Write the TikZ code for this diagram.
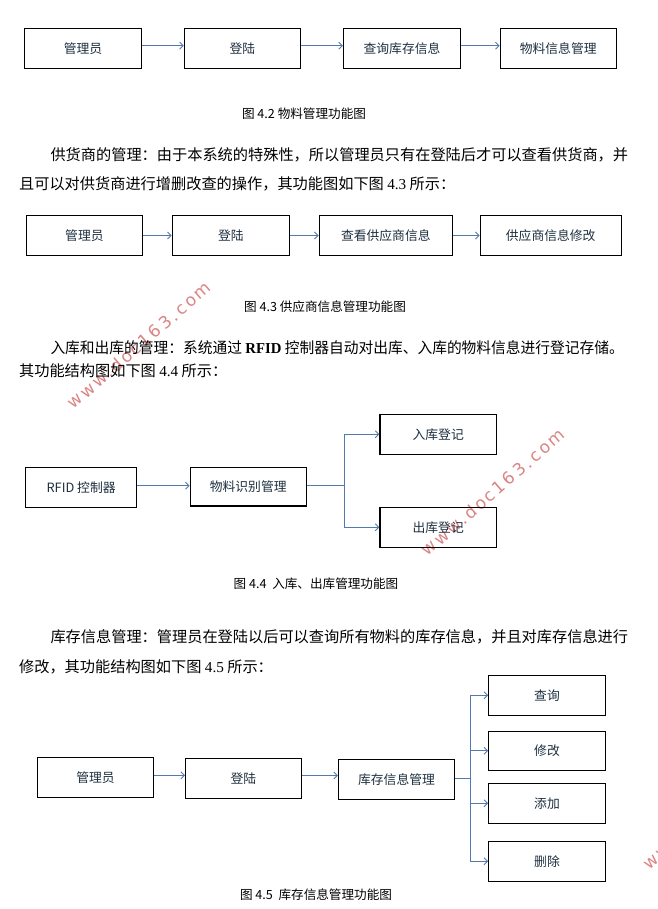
\documentclass[tikz,border=0pt]{standalone}
\usepackage{fontspec}
\usepackage{graphicx}
\setmainfont{Noto Sans CJK SC}
\newfontfamily\latf{Liberation Serif}
\newfontfamily\wmf[LetterSpace=15]{DejaVu Sans}
\usetikzlibrary{arrows.meta}
\definecolor{arr}{RGB}{82,122,170}
\definecolor{boxtxt}{RGB}{30,48,64}
\definecolor{wmred}{RGB}{214,112,112}
\tikzset{
  box/.style={draw=black, line width=1.15pt, minimum height=40pt, inner sep=0pt,
    font=\fontsize{12.8}{14}\selectfont, text=boxtxt},
  link/.style={draw=arr, line width=0.9pt, -{Straight Barb[length=3.5pt,width=7pt,line width=0.9pt]}},
  trunk/.style={draw=arr, line width=0.9pt},
  para/.style={anchor=west, inner sep=0pt, text height=11pt, text depth=2pt, font=\fontsize{15.2}{18}\selectfont},
  figcap/.style={inner sep=0pt, font=\fontsize{12.6}{14}\selectfont},
  wmark/.style={rotate=41, text=wmred, text opacity=0.85, inner sep=0pt, font=\wmf\fontsize{17}{17}\selectfont}
}
\begin{document}
\begin{tikzpicture}[x=1pt,y=-1pt]
\useasboundingbox (0,0) rectangle (657,909);
\fill[white] (0,0) rectangle (657,909);

% watermarks
\node[wmark] (wm1) at (139,345) {www.doc163.com};
\node[wmark] (wm2) at (493,492) {www.doc163.com};
\node[wmark, anchor=west] (wm3) at (645,866) {www.doc163.com};

% ---------- Figure 4.2 ----------
\node[box, minimum width=117pt] (a1) at (83,48.3) {管理员};
\node[box, minimum width=116pt] (a2) at (242.3,48.3) {登陆};
\node[box, minimum width=117pt] (a3) at (402,48.3) {查询库存信息};
\node[box, minimum width=116pt] (a4) at (558.2,48.3) {物料信息管理};
\draw[link] ([yshift=2.6pt]a1.east) -- ([yshift=2.6pt]a2.west);
\draw[link] ([yshift=2.6pt]a2.east) -- ([yshift=2.6pt]a3.west);
\draw[link] ([yshift=2.6pt]a3.east) -- ([yshift=2.6pt]a4.west);
\node[figcap] (cap1) at (304,114) {图 4.2 物料管理功能图};

% ---------- paragraph ----------
\node[para] (p1a) at (50.3,156) {供货商的管理：由于本系统的特殊性，所以管理员只有在登陆后才可以查看供货商，并};
\node[para] (p1b) at (18.9,185) {且可以对供货商进行增删改查的操作，其功能图如下图 {\latf 4.3} 所示：};

% ---------- Figure 4.3 ----------
\node[box, minimum width=116pt, minimum height=39.6pt] (b1) at (84.4,235.5) {管理员};
\node[box, minimum width=117.3pt, minimum height=39.6pt] (b2) at (230.9,235.5) {登陆};
\node[box, minimum width=133.2pt, minimum height=39.6pt] (b3) at (385.8,235.5) {查看供应商信息};
\node[box, minimum width=141.2pt, minimum height=39.6pt] (b4) at (550.7,235.5) {供应商信息修改};
\draw[link] (b1) -- (b2);
\draw[link] (b2) -- (b3);
\draw[link] (b3) -- (b4);
\node[figcap] (cap2) at (325,306.7) {图 4.3 供应商信息管理功能图};

% ---------- paragraph ----------
\node[para] (p2a) at (50.3,349.3) {\scalebox{0.97}[1]{入库和出库的管理：系统通过 {\latf\bfseries RFID} 控制器自动对出库、入库的物料信息进行登记存储。}};
\node[para] (p2b) at (18.9,371.7) {其功能结构图如下图 {\latf 4.4} 所示：};

% ---------- Figure 4.4 ----------
\node[box, minimum width=111pt] (c1) at (81.1,487.3) {RFID 控制器};
\node[box, minimum width=116pt, minimum height=38.7pt] (c2) at (248.2,486.7) {物料识别管理};
\node[box, minimum width=116.4pt] (c3) at (438.2,434.3) {入库登记};
\node[box, minimum width=116.4pt] (c4) at (438.2,527.3) {出库登记};
\coordinate (cj) at (344.8,485.7);
\draw[link] ([yshift=1.6pt]c1.east) -- ([yshift=1.6pt]c1.east -| c2.west);
\draw[trunk] (c2.east |- cj) -- (cj);
\draw[link] (cj) |- (c3.west);
\draw[link] (cj) |- (c4.west);
\node[figcap] (cap3) at (316,583.3) {图 4.4\ \ 入库、出库管理功能图};

% ---------- paragraph ----------
\node[para] (p3a) at (50.3,638.3) {库存信息管理：管理员在登陆以后可以查询所有物料的库存信息，并且对库存信息进行};
\node[para] (p3b) at (18.9,668.3) {修改，其功能结构图如下图 {\latf 4.5} 所示：};

% ---------- Figure 4.5 ----------
\node[box, minimum width=116.4pt] (d1) at (95.5,777.3) {管理员};
\node[box, minimum width=115.6pt, minimum height=40.4pt] (d2) at (243.4,778.5) {登陆};
\node[box, minimum width=116pt] (d3) at (396.5,779.3) {库存信息管理};
\node[box, minimum width=116.5pt] (e1) at (547,695.3) {查询};
\node[box, minimum width=116.5pt, minimum height=39pt] (e2) at (547,750.8) {修改};
\node[box, minimum width=116.5pt] (e3) at (547,803.3) {添加};
\node[box, minimum width=116.5pt] (e4) at (547,861.3) {删除};
\coordinate (dj) at (470.5,778.7);
\draw[link] ([yshift=2pt]d1.east) -- ([yshift=2pt]d1.east -| d2.west);
\draw[link] ([yshift=3pt]d2.east) -- ([yshift=3pt]d2.east -| d3.west);
\draw[trunk] (d3.east |- dj) -- (dj);
\draw[link] (dj) |- (e1.west);
\draw[link] (dj) |- (e2.west);
\draw[link] (dj) |- (e3.west);
\draw[link] (dj) |- (e4.west);
\node[figcap] (cap4) at (316,894.3) {图 4.5\ \ 库存信息管理功能图};
\end{tikzpicture}
\end{document}
